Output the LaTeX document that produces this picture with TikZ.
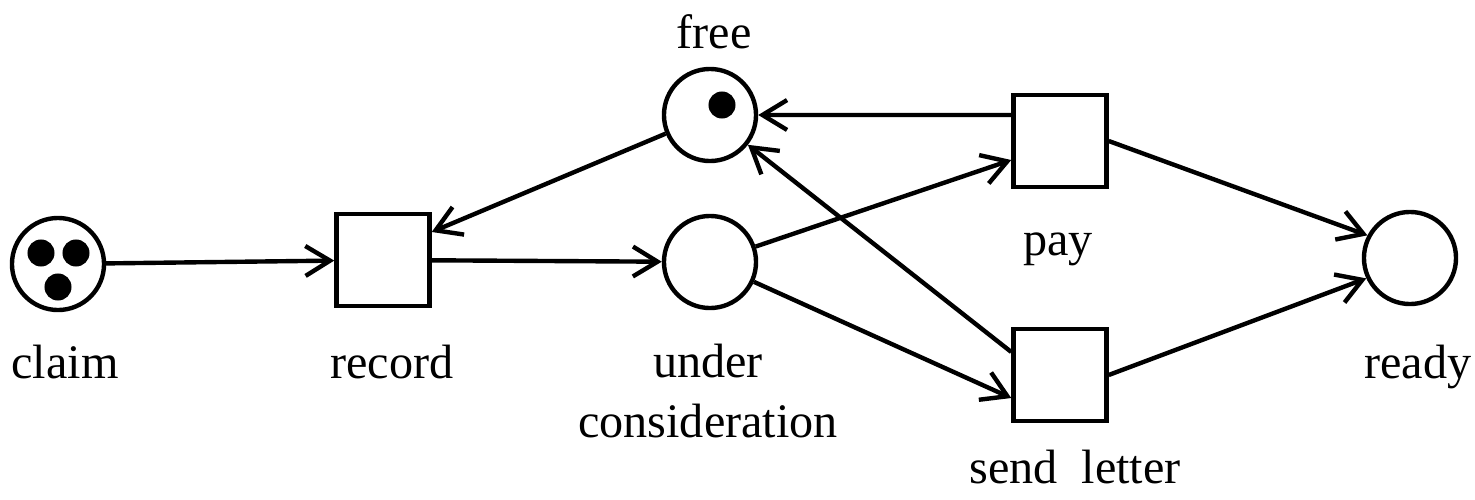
\documentclass[tikz,border=0pt]{standalone}
\usepackage{fontspec}
\setmainfont{Liberation Serif}
\usetikzlibrary{arrows.meta}
\begin{document}
\begin{tikzpicture}[x=0.01cm,y=-0.01cm,line width=1.25pt,
  place/.style={circle,draw,minimum size=0.92cm,inner sep=0pt},
  trans/.style={rectangle,draw,minimum width=0.93cm,minimum height=0.92cm,inner sep=0pt},
  token/.style={circle,fill,minimum size=0.27cm,inner sep=0pt},
  lbl/.style={anchor=base,font=\fontsize{13.7}{16.8}\selectfont,align=center},
  arc/.style={-{Straight Barb[length=7pt,width=8.5pt]}}]
\useasboundingbox (0,0) rectangle (1475,500);

% places
\node[place] (claim) at (58,264) {};
\node[place] (free) at (710,115) {};
\node[place] (uc) at (710,262) {};
\node[place] (ready) at (1410,258) {};

% transitions
\node[trans] (record) at (383,260) {};
\node[trans] (pay) at (1060,141) {};
\node[trans] (send) at (1060,375) {};

% tokens
\node[token] (tok1) at (41,253) {};
\node[token] (tok2) at (76,253) {};
\node[token] (tok3) at (58,287) {};
\node[token] (tok4) at (722,105) {};

% arcs
\draw[arc] (claim) -- (record);
\draw[arc] (free) -- ([yshift=0.28cm]record.east);
\draw[arc] (record) -- (uc);
\draw[arc] (uc) -- ([yshift=-0.19cm]pay.west);
\draw[arc] (uc) -- ([yshift=-0.23cm]send.west);
\draw[arc] ([yshift=0.26cm]pay.west) -- (free);
\draw[arc] ([yshift=0.23cm]send.west) -- (free);
\draw[arc] (pay.east) -- (ready.152);
\draw[arc] (send.east) -- (ready.205);

% labels
\node[lbl] (claimlbl) at (65,378) {claim};
\node[lbl] (recordlbl) at (392,378) {record};
\node[lbl] (uclbl) at (708,437) {under\\consideration};
\node[lbl] (freelbl) at (714,48) {free};
\node[lbl] (paylbl) at (1058,255) {pay};
\node[lbl] (sendlbl) at (1075,483) {send~~letter};
\node[lbl] (readylbl) at (1418,378) {ready};
\end{tikzpicture}
\end{document}
